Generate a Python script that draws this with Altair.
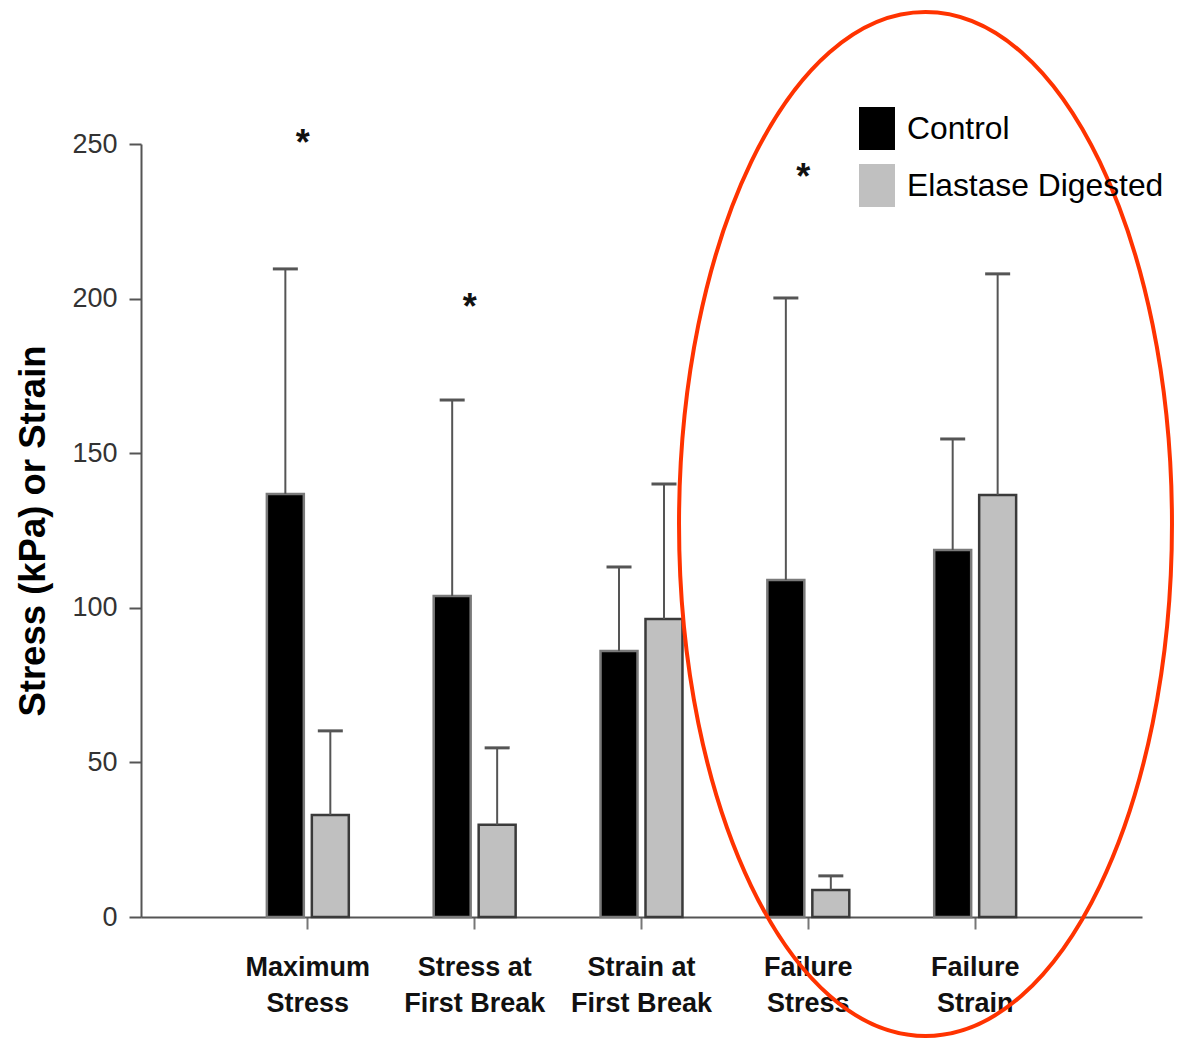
import json

import altair as alt
import pandas as pd

# Measurements per test, shown as group means with upper error limits
categories = [
    "Maximum Stress",
    "Stress at First Break",
    "Strain at First Break",
    "Failure Stress",
    "Failure Strain",
]
category_lines = [
    ["Maximum", "Stress"],
    ["Stress at", "First Break"],
    ["Strain at", "First Break"],
    ["Failure", "Stress"],
    ["Failure", "Strain"],
]
groups = ["Control", "Elastase Digested"]
control_mean = [136.8, 103.8, 86.0, 109.0, 118.7]
control_upper = [209.6, 167.2, 113.2, 200.2, 154.6]
elastase_mean = [33.0, 29.8, 96.4, 8.7, 136.5]
elastase_upper = [60.2, 54.7, 140.0, 13.3, 208.0]

# Significance markers
sig_categories = ["Maximum Stress", "Stress at First Break", "Failure Stress"]
sig_height = [250, 197, 239]

y_ticks = [0, 50, 100, 150, 200, 250]

FONT = "Liberation Sans"

rows = []
for i, cat in enumerate(categories):
    rows.append({"category": cat, "group": groups[0],
                 "mean": control_mean[i], "upper": control_upper[i]})
    rows.append({"category": cat, "group": groups[1],
                 "mean": elastase_mean[i], "upper": elastase_upper[i]})
df = pd.DataFrame(rows)
sig_df = pd.DataFrame({"category": sig_categories, "height": sig_height})
focus_df = pd.DataFrame({"note": ["failure measures"]})

label_map = json.dumps(dict(zip(categories, category_lines)))

x_enc = alt.X(
    "category:N",
    sort=categories,
    scale=alt.Scale(paddingInner=0, paddingOuter=0.5),
    axis=alt.Axis(
        title=None,
        labelExpr=f"{label_map}[datum.label]",
        labelAngle=0,
        labelFont=FONT,
        labelFontSize=27,
        labelFontWeight="bold",
        labelColor="#111111",
        labelLineHeight=36,
        labelPadding=25,
        labelBaseline="top",
        labelLimit=0,
        tickSize=12,
        tickColor="#777777",
        tickWidth=2,
        domainColor="#555555",
        domainWidth=2,
    ),
)
xoff_enc = alt.XOffset(
    "group:N",
    sort=groups,
    scale=alt.Scale(paddingInner=0.178, paddingOuter=0.944),
)
y_scale = alt.Scale(domain=[0, 250], nice=False)

bars = alt.Chart(df).mark_bar(strokeWidth=2.5).encode(
    x=x_enc,
    xOffset=xoff_enc,
    y=alt.Y(
        "mean:Q",
        scale=y_scale,
        axis=alt.Axis(
            values=y_ticks,
            title="Stress (kPa) or Strain",
            titleFont=FONT,
            titleFontSize=36.5,
            titleFontWeight="bold",
            titleColor="#000000",
            titlePadding=19,
            labelFont=FONT,
            labelFontSize=27,
            labelColor="#333333",
            labelPadding=12,
            tickSize=12,
            tickColor="#555555",
            tickWidth=2,
            domainColor="#555555",
            domainWidth=2,
            grid=False,
        ),
    ),
    color=alt.Color(
        "group:N",
        sort=groups,
        scale=alt.Scale(domain=groups, range=["#000000", "#c0c0c0"]),
        legend=alt.Legend(
            title=None,
            orient="none",
            legendX=714.5,
            legendY=-37,
            symbolType="M-0.837,-1L0.837,-1L0.837,1L-0.837,1Z",
            symbolSize=1849,
            symbolStrokeWidth=0,
            labelFont=FONT,
            labelFontSize=31.8,
            labelColor="#000000",
            labelOffset=8.5,
            labelLimit=0,
            rowPadding=14,
            padding=0,
        ),
    ),
    stroke=alt.Stroke(
        "group:N",
        sort=groups,
        scale=alt.Scale(domain=groups, range=["#7a7a7a", "#3a3a3a"]),
        legend=None,
    ),
)

err_lines = alt.Chart(df).mark_rule(color="#555555", strokeWidth=2).encode(
    x=alt.X("category:N", sort=categories),
    xOffset=xoff_enc,
    y=alt.Y("mean:Q", scale=y_scale),
    y2="upper:Q",
)

err_caps = alt.Chart(df).mark_tick(
    color="#555555", thickness=3, size=25, opacity=1
).encode(
    x=alt.X("category:N", sort=categories),
    xOffset=xoff_enc,
    y=alt.Y("upper:Q", scale=y_scale),
)

stars = alt.Chart(sig_df).mark_text(
    text="*", font=FONT, fontSize=36, fontWeight="bold",
    color="#111111", baseline="middle", dx=-5,
).encode(
    x=alt.X("category:N", sort=categories),
    y=alt.Y("height:Q", scale=y_scale),
)

# Red ellipse drawn around the two failure measures
ellipse_path = "M-0.4814,0A0.4814,1,0,1,1,0.4814,0A0.4814,1,0,1,1,-0.4814,0Z"
focus = alt.Chart(focus_df).mark_point(
    shape=ellipse_path,
    size=1048576,
    filled=False,
    stroke="#ff3300",
    strokeWidth=4,
    opacity=1,
).encode(
    x=alt.value(784.5),
    y=alt.value(380),
)

chart = (
    alt.layer(bars, err_lines, err_caps, stars, focus)
    .properties(
        width=1001,
        height=773,
        autosize=alt.AutoSizeParams(type="none"),
        padding={"left": 141, "top": 144, "right": 40, "bottom": 121},
        background="#ffffff",
    )
    .configure_view(stroke=None)
)

chart.save("out.html", embed_options={"renderer": "svg", "actions": False})
